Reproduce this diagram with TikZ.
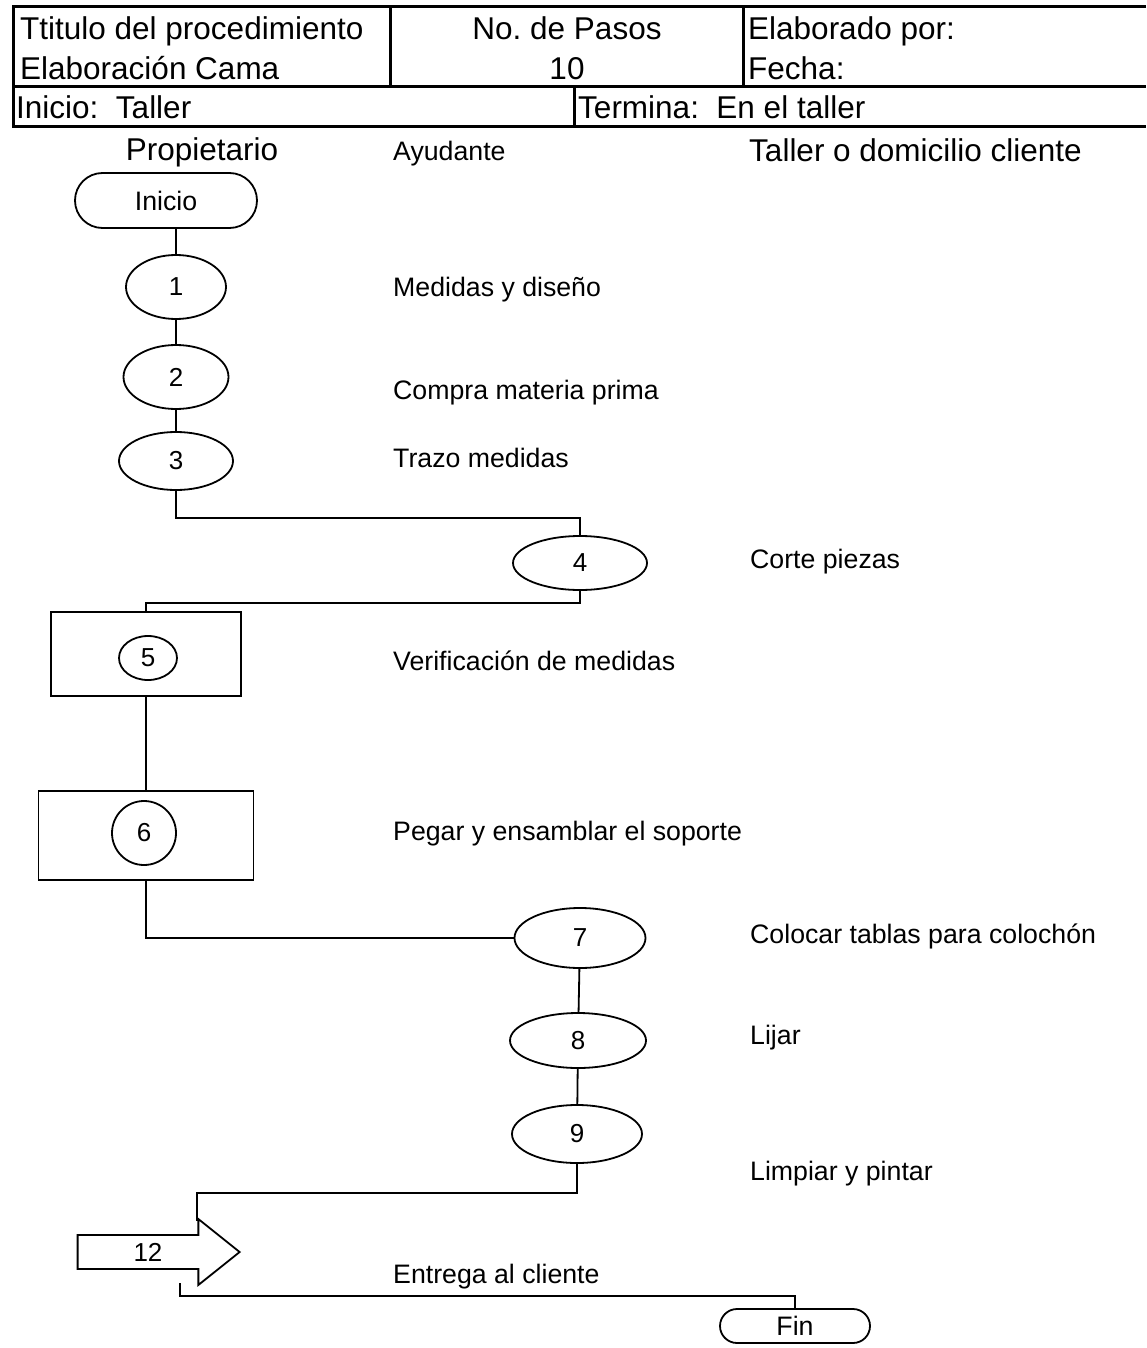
\documentclass[tikz,border=0pt]{standalone}
\usepackage{fontspec}
\setmainfont{Liberation Sans}
\frenchspacing
\usetikzlibrary{shapes.geometric,shapes.misc,shapes.arrows}

\begin{document}
\begin{tikzpicture}[
    x=1pt, y=-1pt,
    paso/.style={ellipse, draw, line width=1.8pt, inner sep=0pt, font=\fontsize{26}{30}\selectfont},
    caja/.style={rectangle, draw, line width=1.8pt, inner sep=0pt},
    terminal/.style={rounded rectangle, draw, line width=1.8pt, inner sep=0pt, font=\fontsize{26.7}{30}\selectfont},
    etiqueta/.style={anchor=west, inner sep=0pt, text height=20pt, text depth=0pt, font=\fontsize{26.7}{30}\selectfont},
    cabecera/.style={inner sep=0pt, text height=23pt, text depth=0pt, font=\fontsize{31.5}{36}\selectfont},
    linea/.style={line width=1.8pt},
    marco/.style={line width=3pt}
]
    \useasboundingbox (0,0) rectangle (1146,1348);

    % Header table
    \draw[marco] (1146,7) -- (13,7) -- (13,127) -- (1146,127);
    \draw[marco] (13,87) -- (1146,87);
    \draw[marco] (390,7) -- (390,87);
    \draw[marco] (743,7) -- (743,87);
    \draw[marco] (574,87) -- (574,127);

    \node[cabecera, anchor=west] (titulo) at (20,28) {Ttitulo del procedimiento};
    \node[cabecera, anchor=west] (nombre) at (20,68) {Elaboración Cama};
    \node[cabecera] (pasos) at (567,28) {No. de Pasos};
    \node[cabecera] (numpasos) at (567,68) {10};
    \node[cabecera, anchor=west] (autor) at (748,28) {Elaborado por:};
    \node[cabecera, anchor=west] (fecha) at (748,68) {Fecha:};
    \node[cabecera, anchor=west] (desde) at (16,107) {Inicio:\ \ Taller};
    \node[cabecera, anchor=west] (hasta) at (578,107) {Termina:\ \ En el taller};

    % Columns
    \node[cabecera] (propietario) at (202,149) {Propietario};
    \node[etiqueta] (ayudante) at (393,151) {Ayudante};
    \node[cabecera, anchor=west] (cliente) at (749,150) {Taller o domicilio cliente};

    % Steps
    \node[terminal, minimum width=182pt, minimum height=55pt] (inicio) at (166,200.5) {Inicio};
    \node[paso, minimum width=100pt, minimum height=64pt] (p1) at (176,287) {1};
    \node[paso, minimum width=105pt, minimum height=64pt] (p2) at (176,377) {2};
    \node[paso, minimum width=114pt, minimum height=58pt] (p3) at (176,461) {3};
    \node[paso, minimum width=134pt, minimum height=54pt] (p4) at (580,563) {4};
    \node[caja, minimum width=190pt, minimum height=84pt] (b5) at (146,654) {};
    \node[paso, minimum width=58pt, minimum height=44pt] (p5) at (148,658) {5};
    \node[caja, minimum width=215pt, minimum height=89pt] (b6) at (146,835.5) {};
    \node[paso, minimum width=64pt, minimum height=64pt] (p6) at (144,833) {6};
    \node[paso, minimum width=131pt, minimum height=60pt] (p7) at (580,938) {7};
    \node[paso, minimum width=136pt, minimum height=55pt] (p8) at (578,1040.5) {8};
    \node[paso, minimum width=130pt, minimum height=58pt] (p9) at (577,1134) {9};
    \node[single arrow, draw, line width=1.8pt, inner xsep=0pt, inner ysep=7pt,
          minimum height=162pt, minimum width=64pt,
          single arrow head extend=16pt, single arrow tip angle=77.3,
          font=\fontsize{26}{30}\selectfont] (a12) at (148,1252) {12};
    \node[terminal, minimum width=150pt, minimum height=34pt] (fin) at (795,1326) {Fin};

    \coordinate (a12up) at (197,1221);
    \coordinate (a12dn) at (180,1283);

    % Step texts
    \node[etiqueta] (t1) at (393,286) {Medidas y diseño};
    \node[etiqueta] (t2) at (393,389) {Compra materia prima};
    \node[etiqueta] (t3) at (393,457) {Trazo medidas};
    \node[etiqueta] (t4) at (750,558) {Corte piezas};
    \node[etiqueta] (t5) at (393,660) {Verificación de medidas};
    \node[etiqueta] (t6) at (393,830) {Pegar y ensamblar el soporte};
    \node[etiqueta] (t7) at (750,933) {Colocar tablas para colochón};
    \node[etiqueta] (t8) at (750,1034) {Lijar};
    \node[etiqueta] (t9) at (750,1170) {Limpiar y pintar};
    \node[etiqueta] (t12) at (393,1273) {Entrega al cliente};

    % Connections
    \draw[linea] (p1.north |- inicio.south) -- (p1.north);
    \draw[linea] (p1) -- (p2);
    \draw[linea] (p2) -- (p3);
    \draw[linea] (p3.south) -- ++(0,27) -| (p4.north);
    \draw[linea] (p4.south) -- ++(0,12) -| (b5.north);
    \draw[linea] (b5) -- (b6);
    \draw[linea] (b6.south) |- (p7.west);
    \draw[linea] (p7) -- (p8);
    \draw[linea] (p8) -- (p9);
    \draw[linea] (p9.south) -- ++(0,29) -| (a12up);
    \draw[linea] (a12dn) -- ++(0,13) -| (fin.north);
\end{tikzpicture}
\end{document}
